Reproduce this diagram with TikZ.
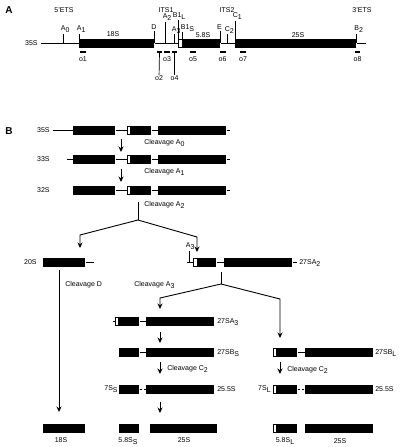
\documentclass[tikz,border=0pt]{standalone}
\usepackage{fontspec}
\setmainfont{Liberation Sans}
\usetikzlibrary{arrows.meta}
\newcommand{\lsub}[1]{\raisebox{-0.55ex}{#1}}
\tikzset{
  blk/.style={rectangle,fill=black,inner sep=0pt,minimum height=9},
  wht/.style={rectangle,draw=black,fill=white,line width=0.6pt,inner sep=0pt,minimum height=8.4,minimum width=4},
  lbl/.style={inner sep=0pt,font=\fontsize{7}{8}\selectfont},
  pnl/.style={inner sep=0pt,font=\bfseries\fontsize{10}{10}\selectfont},
  oli/.style={rectangle,fill=black,inner sep=0pt,minimum height=1.6},
  arr/.style={line width=0.9pt,-{Stealth[length=5.5pt,width=5pt]}},
  gap/.style={dash pattern=on 2pt off 2pt}
}

\begin{document}
\begin{tikzpicture}[x=1pt,y=-1pt,line width=0.7pt]
\useasboundingbox (0,0) rectangle (400,447);

% panel A: the 35S map
\node[pnl] (pA) at (9,10) {A};
\node[lbl] (r5ets) at (64,10) {5'ETS};
\node[lbl] (rits1) at (166,10) {ITS1};
\node[lbl] (rits2) at (227,10) {ITS2};
\node[lbl] (r3ets) at (362,10) {3'ETS};

\draw (79,43) node[blk,minimum width=75,anchor=west](r18) {};
\draw (178,43) node[wht,minimum width=4.4,anchor=west](rB1) {};
\draw (183,43) node[blk,minimum width=37,anchor=west](r58) {};
\draw (235,43) node[blk,minimum width=121,anchor=west](r25) {};
\coordinate (rst) at (41,43);
\coordinate (ren) at (366,43);
\node[lbl,anchor=east] (l35) at (38,43) {35S};
\draw (rst) -- (r18);
\draw (r18) -- (rB1);
\draw (r58) -- (r25);
\draw (r25) -- (ren);
\node[lbl] (l18) at (113,34) {18S};
\node[lbl] (l58) at (203,35.5) {5.8S};
\node[lbl] (l25) at (298,35) {25S};

% cleavage sites
\coordinate (kA0) at (63,34);
\coordinate (kA1) at (79,34);
\coordinate (kD) at (154,31);
\coordinate (kA2) at (165,22);
\coordinate (kA3) at (174,34);
\coordinate (kB1L) at (178,20);
\coordinate (kB1S) at (182,32);
\coordinate (kE) at (220,31);
\coordinate (kC2) at (227,34);
\coordinate (kC1) at (235,21);
\coordinate (kB2) at (356,34);
\foreach \k in {kA0,kA1,kD,kA2,kA3,kB1L,kB1S,kE,kC2,kC1,kB2}
  \draw (\k) -- (\k |- r18);
\node[lbl,anchor=base west] (tA0) at (60.6,30.5) {A\lsub{0}};
\node[lbl,anchor=base west] (tA1) at (76.6,30.5) {A\lsub{1}};
\node[lbl,anchor=base] (tD) at (154,29) {D};
\node[lbl,anchor=base west] (tA2) at (162.4,18.5) {A\lsub{2}};
\node[lbl,anchor=base west] (tA3) at (171.6,31) {A\lsub{3}};
\node[lbl,anchor=base west] (tB1L) at (172.5,17.5) {B1\lsub{L}};
\node[lbl,anchor=base west] (tB1S) at (180.5,29.5) {B1\lsub{S}};
\node[lbl,anchor=base] (tE) at (219.5,29) {E};
\node[lbl,anchor=base west] (tC2) at (224.5,31) {C\lsub{2}};
\node[lbl,anchor=base west] (tC1) at (232.5,17.5) {C\lsub{1}};
\node[lbl,anchor=base west] (tB2) at (354,30.5) {B\lsub{2}};

% oligos
\node[oli,minimum width=6] (o1) at (83,52) {};
\node[oli,minimum width=5] (o2) at (159.5,52) {};
\node[oli,minimum width=6] (o3) at (167,52) {};
\node[oli,minimum width=5] (o4) at (174.5,52) {};
\node[oli,minimum width=6] (o5) at (193,52) {};
\node[oli,minimum width=6] (o6) at (223,52) {};
\node[oli,minimum width=6] (o7) at (243,52) {};
\node[oli,minimum width=5] (o8) at (357.5,52) {};
\node[lbl] (lo1) at (83,59.5) {o1};
\node[lbl] (lo2) at (159,78) {o2};
\node[lbl] (lo3) at (167,59.5) {o3};
\node[lbl] (lo4) at (174.5,78) {o4};
\node[lbl] (lo5) at (193,59.5) {o5};
\node[lbl] (lo6) at (222.5,59.5) {o6};
\node[lbl] (lo7) at (243,59.5) {o7};
\node[lbl] (lo8) at (357.5,59.5) {o8};
\draw (o2) -- (lo2);
\draw (o4) -- (lo4);

% panel B: processing pathway
\node[pnl] (pB) at (9,131) {B};

% 35S
\draw (73,130) node[blk,minimum width=42,anchor=west](a1) {};
\draw (127,130) node[wht,minimum width=3,anchor=west](a2) {};
\draw (130,130) node[blk,minimum width=21,anchor=west](a3) {};
\draw (158,130) node[blk,minimum width=68,anchor=west](a4) {};
\coordinate (a0) at (53,130);
\coordinate (a5) at (230,130);
\node[lbl,anchor=east] (la) at (50,130) {35S};
\draw (a0) -- (a1);
\draw (a1) -- (a2);
\draw (a3) -- (a4);
\draw (a4) -- (a5);

% 33S
\draw (73,159) node[blk,minimum width=42,anchor=west](b1) {};
\draw (127,159) node[wht,minimum width=3,anchor=west](b2) {};
\draw (130,159) node[blk,minimum width=21,anchor=west](b3) {};
\draw (158,159) node[blk,minimum width=68,anchor=west](b4) {};
\coordinate (b0) at (67,159);
\coordinate (b5) at (230,159);
\node[lbl,anchor=east] (lb) at (50,159) {33S};
\draw (b0) -- (b1);
\draw (b1) -- (b2);
\draw (b3) -- (b4);
\draw (b4) -- (b5);

% 32S
\draw (73,190) node[blk,minimum width=42,anchor=west](c1) {};
\draw (127,190) node[wht,minimum width=3,anchor=west](c2) {};
\draw (130,190) node[blk,minimum width=21,anchor=west](c3) {};
\draw (158,190) node[blk,minimum width=68,anchor=west](c4) {};
\coordinate (c5) at (230,190);
\node[lbl,anchor=east] (lc) at (50,190) {32S};
\draw (c1) -- (c2);
\draw (c3) -- (c4);
\draw (c4) -- (c5);

\coordinate (v1s) at (121,139);
\coordinate (v1e) at (121,152);
\coordinate (v2s) at (121,169);
\coordinate (v2e) at (121,182);
\draw[arr] (v1s) -- (v1e);
\draw[arr] (v2s) -- (v2e);
\node[lbl,anchor=west] (cA0) at (144,143) {Cleavage A\lsub{0}};
\node[lbl,anchor=west] (cA1) at (144,172) {Cleavage A\lsub{1}};
\node[lbl,anchor=west] (cA2) at (144,205) {Cleavage A\lsub{2}};

% split at A2
\coordinate (s2a) at (138,202);
\coordinate (s2b) at (138,220);
\coordinate (s2l) at (80,235);
\coordinate (s2lt) at (80,248);
\coordinate (s2r) at (197,237);
\coordinate (s2rt) at (197,252);
\draw (s2a) -- (s2b);
\draw[arr] (s2b) -- (s2l) -- (s2lt);
\draw[arr] (s2b) -- (s2r) -- (s2rt);

% 20S
\draw (43,262) node[blk,minimum width=42,anchor=west](d1) {};
\coordinate (d2) at (94,262);
\node[lbl,anchor=east] (ld) at (37,262) {20S};
\draw (d1) -- (d2);

% 27SA2
\coordinate (e0) at (187,262);
\draw (192.5,262) node[wht,minimum width=4,anchor=west](e1) {};
\draw (197,262) node[blk,minimum width=19,anchor=west](e2) {};
\draw (224,262) node[blk,minimum width=68,anchor=west](e3) {};
\coordinate (e4) at (297,262);
\node[lbl,anchor=west] (le) at (299,263) {27SA\lsub{2}};
\draw (e0) -- (e1);
\draw (e2) -- (e3);
\draw (e3) -- (e4);
\coordinate (kA3b) at (189,251);
\draw (kA3b) -- (kA3b |- e1);
\node[lbl,anchor=base west] (tA3b) at (185.5,247.5) {A\lsub{3}};

% split at A3
\coordinate (s3a) at (221,272);
\coordinate (s3b) at (221,284);
\coordinate (s3l) at (160,298);
\coordinate (s3lt) at (160,309);
\coordinate (s3r) at (280,299);
\coordinate (s3rt) at (280,338);
\draw (s3a) -- (s3b);
\draw[arr] (s3b) -- (s3l) -- (s3lt);
\draw[arr] (s3b) -- (s3r) -- (s3rt);
\node[lbl,anchor=west] (cD) at (65,285) {Cleavage D};
\node[lbl,anchor=west] (cA3) at (134,285) {Cleavage A\lsub{3}};

% 20S to 18S
\coordinate (dDs) at (59,270);
\coordinate (dDe) at (59,412);
\draw[arr] (dDs) -- (dDe);

% 27SA3
\coordinate (f0) at (113,321);
\draw (115,321) node[wht,minimum width=3.4,anchor=west](f1) {};
\draw (119,321) node[blk,minimum width=20,anchor=west](f2) {};
\draw (146,321) node[blk,minimum width=68,anchor=west](f3) {};
\node[lbl,anchor=west] (lf) at (217,322) {27SA\lsub{3}};
\draw (f0) -- (f1);
\draw (f2) -- (f3);

% 27SBS
\draw (119,352) node[blk,minimum width=20,anchor=west](g1) {};
\draw (146,352) node[blk,minimum width=68,anchor=west](g2) {};
\node[lbl,anchor=west] (lg) at (217,353) {27SB\lsub{S}};
\draw (g1) -- (g2);

% 7SS
\draw (119,389) node[blk,minimum width=20,anchor=west](h1) {};
\draw (146,389) node[blk,minimum width=68,anchor=west](h2) {};
\node[lbl,anchor=east] (lh) at (118,389) {7S\lsub{S}};
\node[lbl,anchor=west] (lh2) at (217,389) {25.5S};
\draw[gap] (h1) -- (h2);

\coordinate (v3s) at (160,332);
\coordinate (v3e) at (160,343);
\coordinate (v4s) at (160,362);
\coordinate (v4e) at (160,374);
\coordinate (v5s) at (160,402);
\coordinate (v5e) at (160,413);
\draw[arr] (v3s) -- (v3e);
\draw[arr] (v4s) -- (v4e);
\draw[arr] (v5s) -- (v5e);
\node[lbl,anchor=west] (cC2s) at (167,369) {Cleavage C\lsub{2}};

% mature rRNAs, short form
\draw (43,428) node[blk,minimum width=42,anchor=west](i1) {};
\draw (119,428) node[blk,minimum width=20,anchor=west](i2) {};
\draw (150,428) node[blk,minimum width=67,anchor=west](i3) {};
\node[lbl] (li1) at (61,440) {18S};
\node[lbl] (li2) at (128,441) {5.8S\lsub{S}};
\node[lbl] (li3) at (184,440) {25S};

% 27SBL
\draw (273,352) node[wht,minimum width=3.4,anchor=west](j1) {};
\draw (277,352) node[blk,minimum width=20,anchor=west](j2) {};
\draw (305,352) node[blk,minimum width=68,anchor=west](j3) {};
\node[lbl,anchor=west] (lj) at (375,353) {27SB\lsub{L}};
\draw (j2) -- (j3);

\coordinate (v6s) at (280,362);
\coordinate (v6e) at (280,374);
\draw[arr] (v6s) -- (v6e);
\node[lbl,anchor=west] (cC2l) at (287,370) {Cleavage C\lsub{2}};

% 7SL
\draw (273,389) node[wht,minimum width=3.4,anchor=west](k1) {};
\draw (277,389) node[blk,minimum width=20,anchor=west](k2) {};
\draw (305,389) node[blk,minimum width=68,anchor=west](k3) {};
\node[lbl,anchor=east] (lk) at (271,389) {7S\lsub{L}};
\node[lbl,anchor=west] (lk2) at (375,389) {25.5S};
\draw[gap] (k2) -- (k3);

% mature rRNAs, long form
\draw (273,428) node[wht,minimum width=3.4,anchor=west](m1) {};
\draw (277,428) node[blk,minimum width=20,anchor=west](m2) {};
\draw (305,428) node[blk,minimum width=68,anchor=west](m3) {};
\node[lbl] (lm2) at (285,441) {5.8S\lsub{L}};
\node[lbl] (lm3) at (340,441) {25S};
\end{tikzpicture}
\end{document}
